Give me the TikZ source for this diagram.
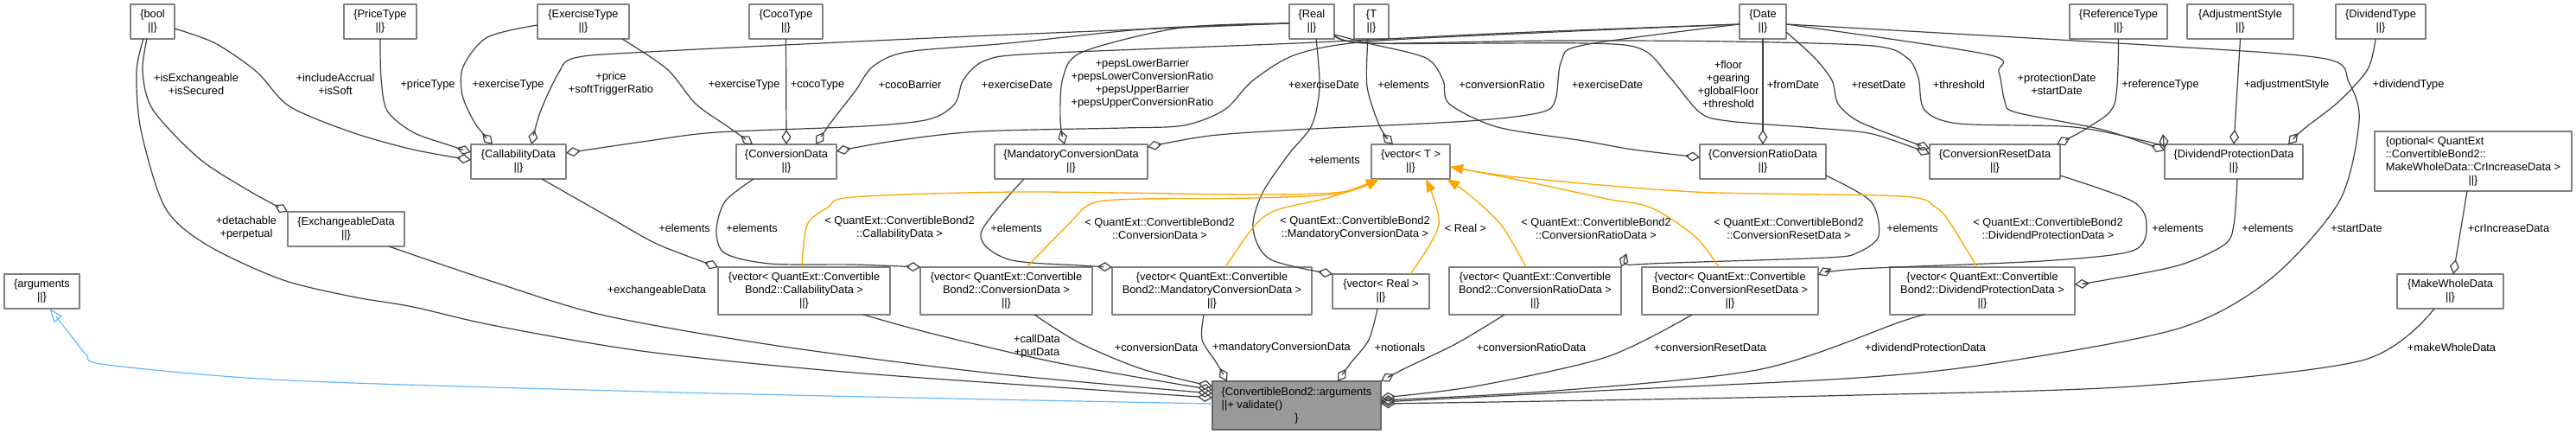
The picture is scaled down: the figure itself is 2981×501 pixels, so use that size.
\documentclass[tikz,border=0pt]{standalone}
\usepackage{fontspec}
\setmainfont{Liberation Sans}
\usetikzlibrary{arrows.meta}
\definecolor{edgec}{HTML}{404040}
\definecolor{nodeb}{HTML}{808080}
\definecolor{mainb}{HTML}{666666}
\definecolor{mainfill}{HTML}{999999}
\definecolor{tmplc}{HTML}{FFA500}
\definecolor{inhc}{HTML}{63B8FF}
\newcommand\nf{\fontsize{12.8}{15}\selectfont}
\tikzset{
  box/.style={draw=nodeb, line width=1.4pt, fill=white, inner sep=0pt, outer sep=0pt, anchor=north west, align=center, font=\nf},
  comp/.style={draw=edgec, line width=1.2pt, -{Diamond[open,length=17pt,width=11pt,line width=1.2pt]}},
  tmpl/.style={draw=tmplc, line width=1.3pt, -{Triangle[length=15pt,width=11pt]}},
  inh/.style={draw=inhc, line width=1.2pt, -{Triangle[open,length=16pt,width=12pt,line width=1.2pt]}},
  lab/.style={font=\nf, align=center, inner sep=0pt}
}
\newcommand\mkbox[6]{\node[box,minimum width={#4-#2},minimum height={#5-#3}] (#1) at (#2,#3) {#6};}
\begin{document}
\begin{tikzpicture}[x=1pt,y=-1pt,line join=round]
\useasboundingbox (0,0) rectangle (2981,501);
% top row
\mkbox{bool}{151}{5}{202}{45}{\{bool\\||\}}
\mkbox{price}{398}{5}{482}{45}{\{PriceType\\||\}}
\mkbox{extype}{622}{5}{728}{45}{\{ExerciseType\\||\}}
\mkbox{coco}{867}{5}{952}{45}{\{CocoType\\||\}}
\mkbox{real}{1492}{5}{1544}{45}{\{Real\\||\}}
\mkbox{tt}{1567}{5}{1607}{45}{\{T\\||\}}
\mkbox{date}{2013}{5}{2067}{45}{\{Date\\||\}}
\mkbox{reftype}{2395}{5}{2508}{45}{\{ReferenceType\\||\}}
\mkbox{adj}{2531}{5}{2654}{45}{\{AdjustmentStyle\\||\}}
\mkbox{divtype}{2703}{5}{2807}{45}{\{DividendType\\||\}}
% second row
\mkbox{callab}{545}{167}{655}{207}{\{CallabilityData\\||\}}
\mkbox{conv}{852}{167}{968}{207}{\{ConversionData\\||\}}
\mkbox{mand}{1151}{167}{1328}{207}{\{MandatoryConversionData\\||\}}
\mkbox{vecT}{1587}{167}{1678}{207}{\{vector< T >\\||\}}
\mkbox{ratio}{1967}{167}{2113}{207}{\{ConversionRatioData\\||\}}
\mkbox{reset}{2233}{167}{2384}{207}{\{ConversionResetData\\||\}}
\mkbox{divprot}{2505}{167}{2665}{207}{\{DividendProtectionData\\||\}}
\mkbox{opt}{2748}{152}{2976}{221}{\begin{tabular}{@{}l@{}}\{optional< QuantExt\\::ConvertibleBond2::\\MakeWholeData::CrIncreaseData >\\\multicolumn{1}{@{}c@{}}{||\}}\end{tabular}}
% third row
\mkbox{exch}{333}{245}{468}{285}{\{ExchangeableData\\||\}}
\mkbox{args}{5}{317}{92}{357}{\{arguments\\||\}}
\mkbox{vcall}{831}{309}{1030}{364}{\{vector< QuantExt::Convertible\\Bond2::CallabilityData >\\||\}}
\mkbox{vconv}{1065}{309}{1264}{364}{\{vector< QuantExt::Convertible\\Bond2::ConversionData >\\||\}}
\mkbox{vmand}{1287}{309}{1518}{364}{\{vector< QuantExt::Convertible\\Bond2::MandatoryConversionData >\\||\}}
\mkbox{vreal}{1542}{317}{1654}{357}{\{vector< Real >\\||\}}
\mkbox{vratio}{1677}{309}{1876}{364}{\{vector< QuantExt::Convertible\\Bond2::ConversionRatioData >\\||\}}
\mkbox{vreset}{1900}{309}{2104}{364}{\{vector< QuantExt::Convertible\\Bond2::ConversionResetData >\\||\}}
\mkbox{vdiv}{2187}{309}{2401}{364}{\{vector< QuantExt::Convertible\\Bond2::DividendProtectionData >\\||\}}
\mkbox{mwd}{2774}{317}{2897}{357}{\{MakeWholeData\\||\}}
\node[box,draw=mainb,fill=mainfill,minimum width=195,minimum height=56] (main) at (1403,441) {\begin{tabular}{@{}l@{}}\{ConvertibleBond2::arguments\\||+ validate()\\\multicolumn{1}{@{}c@{}}{\}}\end{tabular}};

% composition edges
\draw[comp] plot[smooth] coordinates {([yshift=-8]bool.east) (249,50) (297,83) (335,123) (407,153) (478,173) ([yshift=2]callab.west)};
\draw[comp] plot[smooth] coordinates {(price.south) (441,90) (448,128) (478,153) (520,168) ([yshift=11]callab.west)};
\draw[comp] plot[smooth] coordinates {([yshift=-4]extype.west) (564,43) (536,77) (535,110) (550,143) ([xshift=25]callab.north west)};
\draw[comp] plot[smooth] coordinates {([yshift=-2]real.west) (1100,43) (750,60) (665,67) (646,85) (625,130) ([xshift=70]callab.north west)};
\draw[comp] plot[smooth] coordinates {([xshift=-8]extype.south east) (772,80) (805,120) (843,147) ([xshift=19]conv.north west)};
\draw[comp] (coco.south) -- (conv.north);
\draw[comp] plot[smooth] coordinates {([yshift=-2]real.west) (1333,33) (1167,50) (1050,60) (1010,77) (990,105) (965,137) ([xshift=92]conv.north west)};
\draw[comp] plot[smooth] coordinates {([yshift=-2]real.west) (1367,32) (1253,60) (1230,90) (1227,140) ([xshift=81]mand.north west)};
\draw[comp] plot[smooth] coordinates {([yshift=-3]date.west) (1750,38) (1500,50) (1200,62) (1140,70) (1115,92) (1105,120) (1075,138) (1000,146) (830,153) (750,163) ([yshift=10]callab.east)};
\draw[comp] plot[smooth] coordinates {([yshift=-3]date.west) (1800,37) (1583,48) (1500,63) (1450,93) (1417,127) (1370,145) (1300,148) (1133,152) (1035,163) ([yshift=12]conv.east)};
\draw[comp] plot[smooth] coordinates {([yshift=-3]date.west) (1833,52) (1807,70) (1800,115) (1783,130) (1700,140) (1500,150) (1400,157) ([yshift=17]mand.east)};
\draw[comp] plot[smooth] coordinates {([xshift=5]real.south) (1527,100) (1518,145) (1490,180) (1460,225) (1450,265) (1470,300) (vreal.north west)};
\draw[comp] plot[smooth] coordinates {([xshift=-4]tt.south) (1582,100) (1597,147) ([xshift=25]vecT.north west)};
\draw[comp] plot[smooth] coordinates {([yshift=-15]real.east) (1583,50) (1650,67) (1670,93) (1677,120) (1733,147) (1833,163) (1890,173) ([yshift=5]ratio.west)};
\draw[comp] plot[smooth] coordinates {([yshift=-15]real.east) (1583,50) (1833,50) (1900,57) (1933,90) (1967,130) (2000,140) (2100,148) (2167,155) ([yshift=9]reset.west)};
\draw[comp] plot[smooth] coordinates {([yshift=-15]real.east) (1583,50) (1800,47) (2000,48) (2167,53) (2207,67) (2220,90) (2227,127) (2267,143) (2400,147) (2490,165) ([yshift=15]divprot.west)};
\draw[comp] (date.south) -- (ratio.north);
\draw[comp] plot[smooth] coordinates {([yshift=-12]date.east) (2100,67) (2120,93) (2127,120) (2150,140) (2200,160) ([yshift=15]reset.west)};
\draw[comp] plot[smooth] coordinates {([yshift=-3]date.east) (2300,63) (2313,83) (2320,117) (2333,130) (2433,150) ([yshift=13]divprot.west)};
\draw[comp] plot[smooth] coordinates {(reftype.south) (2447,120) (2417,147) ([xshift=-4]reset.north east)};
\draw[comp] (adj.south) -- ([xshift=80]divprot.north west);
\draw[comp] plot[smooth] coordinates {([xshift=-6]divtype.south) (2740,80) (2707,117) (2665,150) ([xshift=-17]divprot.north east)};
\draw[comp] plot[smooth] coordinates {([yshift=-3]date.east) (2500,53) (2691,68) (2718,95) (2730,140) (2707,233) (2627,323) (2521,380) (2309,420) (2150,437) (1850,452) ([yshift=4]main.east)};
\draw[comp] ([xshift=-7]opt.south) -- ([xshift=3.5]mwd.north);
\draw[comp] plot[smooth] coordinates {([xshift=-18.5]mwd.south) (2733,417) (2468,447) (2150,457) (1850,463) ([yshift=2]main.east)};
\draw[comp] plot[smooth] coordinates {([xshift=27]callab.south) (708,253) (762,283) (vcall.north west)};
\draw[comp] plot[smooth] coordinates {([xshift=-38]conv.south) (839,233) (829,267) (839,293) (891,305) (987,306) (vconv.north west)};
\draw[comp] plot[smooth] coordinates {([xshift=-54.5]mand.south) (1135,270) (1167,300) (1250,307) (vmand.north west)};
\draw[comp] plot[smooth] coordinates {([yshift=4]ratio.south east) (2165,233) (2174,273) (2150,292) (2114,298) (1910,305) (vratio.north east)};
\draw[comp] plot[smooth] coordinates {([yshift=4]reset.south east) (2468,233) (2484,260) (2468,290) (2362,302) (2150,311) ([yshift=-9]vreset.north east)};
\draw[comp] plot[smooth] coordinates {([xshift=4]divprot.south) (2585,260) (2574,283) (2521,307) (2430,325) ([yshift=-20]vdiv.north east)};
\draw[comp] plot[smooth] coordinates {([xshift=49.5]exch.south) (574,327) (700,365) (900,400) (1150,432) ([yshift=14]main.west)};
\draw[comp] plot[smooth] coordinates {([xshift=-10.5]bool.south) (158,83) (163,150) (191,240) (239,283) (325,323) (407,343) (478,355) (574,377) (750,407) (1000,432) ([yshift=9]main.west)};
\draw[comp] plot[smooth] coordinates {([xshift=-6.5]bool.south) (165,83) (177,127) (230,183) (287,220) (exch.north west)};
\draw[comp] plot[smooth] coordinates {([xshift=68.5]vcall.south) (1083,387) (1226,420) ([yshift=18]main.west)};
\draw[comp] plot[smooth] coordinates {([xshift=32.5]vconv.south) (1250,397) (1322,427) ([yshift=22]main.west)};
\draw[comp] plot[smooth] coordinates {([xshift=-9.5]vmand.south) (1391,393) (1408,420) ([xshift=17]main.north west)};
\draw[comp] plot[smooth] coordinates {([xshift=-4]vreal.south) (1584,393) (1563,420) ([xshift=145]main.north west)};
\draw[comp] plot[smooth] coordinates {([xshift=-35.5]vratio.south) (1686,397) (1624,427) (main.north east)};
\draw[comp] plot[smooth] coordinates {([xshift=-44]vreset.south) (1859,413) (1706,447) ([yshift=9]main.east)};
\draw[comp] plot[smooth] coordinates {([xshift=-67]vdiv.south) (2200,372) (2038,427) (1800,452) ([yshift=6]main.east)};

% template edges
\draw[tmpl] plot[smooth] coordinates {([xshift=-2.5]vcall.north) (934,260) (958,240) (987,228) (1178,222) (1450,225) (1553,222) ([xshift=9]vecT.south west)};
\draw[tmpl] plot[smooth] coordinates {([xshift=23.5]vconv.north) (1236,260) (1264,235) (1322,230) (1450,229) (1550,224) ([xshift=9]vecT.south west)};
\draw[tmpl] plot[smooth] coordinates {([xshift=15.5]vmand.north) (1451,262) (1477,243) (1540,228) ([xshift=9]vecT.south west)};
\draw[tmpl] plot[smooth] coordinates {([xshift=-22]vreal.north east) (1665,260) ([xshift=17.5]vecT.south)};
\draw[tmpl] plot[smooth] coordinates {([xshift=-10.5]vratio.north) (1737,260) (1700,225) ([xshift=-4]vecT.south east)};
\draw[tmpl] plot[smooth] coordinates {([xshift=-13]vreset.north) (1961,273) (1910,240) (1859,230) (1757,208) ([yshift=-6]vecT.east)};
\draw[tmpl] plot[smooth] coordinates {([xshift=-6]vdiv.north) (2256,257) (2240,240) (2200,227) (1961,222) (1757,205) ([yshift=-6]vecT.east)};

% inheritance
\draw[inh] plot[smooth] coordinates {([yshift=2]main.west) (1100,461) (750,453) (335,440) (124,422) (100,410) (86,393) ([xshift=9]args.south)};

% labels
\node[lab] (l1) at (227,97) {+isExchangeable\\+isSecured};
\node[lab] (l2) at (388,97) {+includeAccrual\\+isSoft};
\node[lab] (l3) at (495,98) {+priceType};
\node[lab] (l4) at (588,98) {+exerciseType};
\node[lab] (l5) at (707,97) {+price\\+softTriggerRatio};
\node[lab] (l6) at (861,98) {+exerciseType};
\node[lab] (l7) at (946,98) {+cocoType};
\node[lab] (l8) at (1053,98) {+cocoBarrier};
\node[lab] (l9) at (1177,98) {+exerciseDate};
\node[lab] (l10) at (1322,97) {+pepsLowerBarrier\\+pepsLowerConversionRatio\\+pepsUpperBarrier\\+pepsUpperConversionRatio};
\node[lab] (l11) at (1532,98) {+exerciseDate};
\node[lab] (l12) at (1624,98) {+elements};
\node[lab] (l13) at (1738,98) {+conversionRatio};
\node[lab] (l14) at (1860,98) {+exerciseDate};
\node[lab] (l15) at (2000,97) {+floor\\+gearing\\+globalFloor\\+threshold};
\node[lab] (l16) at (2075,98) {+fromDate};
\node[lab] (l17) at (2174,98) {+resetDate};
\node[lab] (l18) at (2267,98) {+threshold};
\node[lab] (l19) at (2380,97) {+protectionDate\\+startDate};
\node[lab] (l20) at (2500,98) {+referenceType};
\node[lab] (l21) at (2646,98) {+adjustmentStyle};
\node[lab] (l22) at (2787,98) {+dividendType};
\node[lab] (l23) at (285,264) {+detachable\\+perpetual};
\node[lab] (l24) at (792,264) {+elements};
\node[lab] (l25) at (870,264) {+elements};
\node[lab] (l26) at (760,336) {+exchangeableData};
\node[lab] (l27) at (1041,264) {< QuantExt::ConvertibleBond2\\::CallabilityData >};
\node[lab] (l28) at (1176,264) {+elements};
\node[lab] (l29) at (1342,264) {< QuantExt::ConvertibleBond2\\::ConversionData >};
\node[lab] (l30) at (1568,264) {< QuantExt::ConvertibleBond2\\::MandatoryConversionData >};
\node[lab] (l31) at (1544,185) {+elements};
\node[lab] (l32) at (1696,264) {< Real >};
\node[lab] (l33) at (1847,264) {< QuantExt::ConvertibleBond2\\::ConversionRatioData >};
\node[lab] (l34) at (2070,264) {< QuantExt::ConvertibleBond2\\::ConversionResetData >};
\node[lab] (l35) at (2213,264) {+elements};
\node[lab] (l36) at (2370,264) {< QuantExt::ConvertibleBond2\\::DividendProtectionData >};
\node[lab] (l37) at (2520,264) {+elements};
\node[lab] (l38) at (2624,264) {+elements};
\node[lab] (l39) at (2727,264) {+startDate};
\node[lab] (l40) at (2903,264) {+crIncreaseData};
\node[lab] (l41) at (1200,401) {+callData\\+putData};
\node[lab] (l42) at (1338,402) {+conversionData};
\node[lab] (l43) at (1483,402) {+mandatoryConversionData};
\node[lab] (l44) at (1620,402) {+notionals};
\node[lab] (l45) at (1772,402) {+conversionRatioData};
\node[lab] (l46) at (1979,402) {+conversionResetData};
\node[lab] (l47) at (2228,402) {+dividendProtectionData};
\node[lab] (l48) at (2837,402) {+makeWholeData};
\end{tikzpicture}
\end{document}
